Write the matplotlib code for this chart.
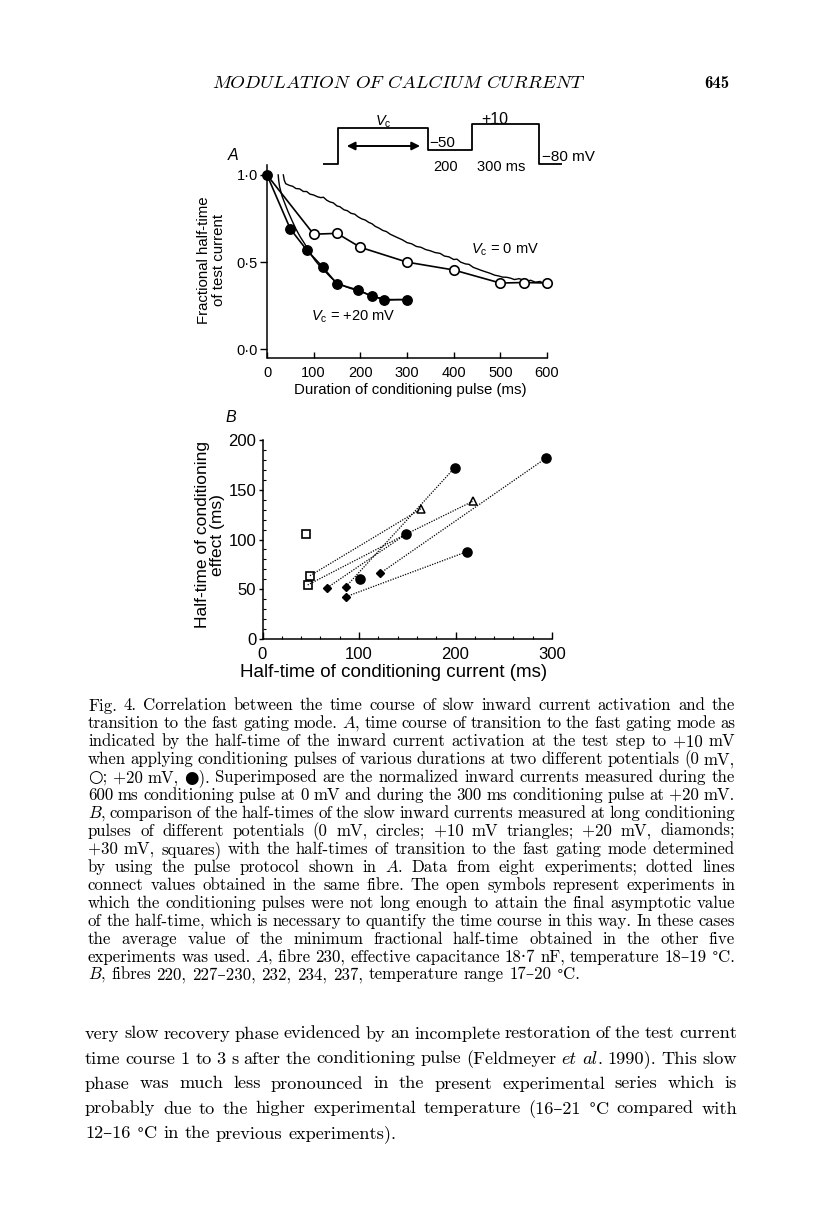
import numpy as np
import matplotlib
matplotlib.use("Agg")
import matplotlib.pyplot as plt
from matplotlib.ticker import MultipleLocator

W, H, DPI = 816, 1208, 100

# ---------------- Panel A data ---------------- #
# fractional half-time of test current vs duration of conditioning pulse
dur_0mv = [0, 100, 150, 200, 300, 400, 500, 550, 600]
half_0mv = [1.0, 0.66, 0.665, 0.585, 0.50, 0.455, 0.38, 0.383, 0.38]
dur_20mv = [0, 50, 85, 120, 150, 195, 225, 250, 300]
half_20mv = [1.0, 0.69, 0.57, 0.47, 0.375, 0.34, 0.305, 0.285, 0.285]

# superimposed normalized inward currents
trace_0mv_t = [35, 37, 40, 48, 55, 62, 70, 78, 85, 92, 100, 108, 115, 121, 128,
               135, 142, 150, 156, 165, 172, 180, 188, 195, 203, 210, 218, 225,
               232, 240, 248, 256, 264, 272, 280, 290, 300, 310, 320, 330, 340,
               350, 360, 371, 380, 390, 400, 407, 415, 425, 433, 442, 450, 460,
               470, 478, 488, 496, 505, 514, 522, 530, 540, 549, 556, 565, 575,
               585, 592, 600]
trace_0mv_i = [1.0, 0.97, 0.95, 0.94, 0.935, 0.922, 0.92, 0.905, 0.905, 0.89,
               0.885, 0.875, 0.87, 0.872, 0.855, 0.845, 0.84, 0.822, 0.818, 0.80,
               0.795, 0.78, 0.775, 0.76, 0.748, 0.742, 0.728, 0.72, 0.705, 0.695,
               0.682, 0.675, 0.66, 0.65, 0.64, 0.628, 0.612, 0.605, 0.59, 0.585,
               0.572, 0.565, 0.555, 0.55, 0.535, 0.53, 0.515, 0.517, 0.5, 0.49,
               0.487, 0.47, 0.462, 0.452, 0.443, 0.436, 0.425, 0.421, 0.414,
               0.413, 0.408, 0.40, 0.405, 0.398, 0.39, 0.396, 0.385, 0.389, 0.38,
               0.382]
trace_20mv_t = [24, 25, 27, 32, 38, 45, 53, 62, 71, 82, 92, 103, 114, 125, 135,
                146, 157, 168, 178, 192, 207, 220, 235, 250, 264, 278, 290]
trace_20mv_i = [1.0, 0.97, 0.933, 0.88, 0.838, 0.79, 0.742, 0.69, 0.646, 0.60,
                0.551, 0.51, 0.474, 0.445, 0.417, 0.39, 0.375, 0.36, 0.35, 0.338,
                0.325, 0.31, 0.298, 0.29, 0.283, 0.285, 0.285]

# ---------------- Panel B data ---------------- #
# half-time of conditioning current (x) vs half-time of conditioning effect (y)
circ_x = [199, 293.5, 148.4, 211.6, 101]       # 0 mV
circ_y = [172, 181.6, 105.2, 87.7, 60]
tri_x = [164.2, 218.5]                          # +10 mV (open)
tri_y = [130.7, 138.7]
sq_x = [44.8, 49.2, 46.8]                       # +30 mV (open)
sq_y = [105.5, 63.6, 54.3]
dia_x = [67.2, 86.5, 86.5, 121.8]               # +20 mV
dia_y = [51.6, 52.6, 42.5, 66]

# values obtained in the same fibre (dotted lines)
fibres = [
    [("sq", 1), ("tri", 0)],
    [("sq", 2), ("circ", 2)],
    [("dia", 0), ("circ", 2), ("tri", 1)],
    [("dia", 1), ("circ", 0)],
    [("dia", 3), ("circ", 1)],
    [("dia", 2), ("circ", 3)],
]

# pulse protocol (schematic): durations in ms and drawn levels
prot_dur = [67, 400, 200, 300, 100]
prot_lvl = [0, 36, 14, 40, 0]

# ---------------- Text ---------------- #
header_words = ["MODULATION", "OF", "CALCIUM", "CURRENT"]
page_number = "645"

caption = [
    "Fig. 4. Correlation between the time course of slow inward current activation and the",
    "transition to the fast gating mode. _A_, time course of transition to the fast gating mode as",
    "indicated by the half-time of the inward current activation at the test step to +10 mV",
    "when applying conditioning pulses of various durations at two different potentials (0 mV,",
    "\u25cb; +20 mV, \u25cf). Superimposed are the normalized inward currents measured during the",
    "600 ms conditioning pulse at 0 mV and during the 300 ms conditioning pulse at +20 mV.",
    "_B_, comparison of the half-times of the slow inward currents measured at long conditioning",
    "pulses of different potentials (0 mV, circles; +10 mV triangles; +20 mV, diamonds;",
    "+30 mV, squares) with the half-times of transition to the fast gating mode determined",
    "by using the pulse protocol shown in _A_. Data from eight experiments; dotted lines",
    "connect values obtained in the same fibre. The open symbols represent experiments in",
    "which the conditioning pulses were not long enough to attain the final asymptotic value",
    "of the half-time, which is necessary to quantify the time course in this way. In these cases",
    "the average value of the minimum fractional half-time obtained in the other five",
    "experiments was used. _A_, fibre 230, effective capacitance 18\u00b77 nF, temperature 18\u201319 \u00b0C.",
    "_B_, fibres 220, 227\u2013230, 232, 234, 237, temperature range 17\u201320 \u00b0C.",
]

body = [
    "very slow recovery phase evidenced by an incomplete restoration of the test current",
    "time course 1 to 3 s after the conditioning pulse (Feldmeyer _et_ _al_. 1990). This slow",
    "phase was much less pronounced in the present experimental series which is",
    "probably due to the higher experimental temperature (16\u201321 \u00b0C compared with",
    "12\u201316 \u00b0C in the previous experiments).",
]

plt.rcParams["font.family"] = ["Liberation Sans", "DejaVu Sans"]
plt.rcParams["mathtext.fontset"] = "custom"
plt.rcParams["mathtext.rm"] = "Liberation Sans"
plt.rcParams["mathtext.it"] = "Liberation Sans:italic"
plt.rcParams["axes.linewidth"] = 1.1

ROMAN = ["cmr10", "DejaVu Serif", "DejaVu Sans"]
ITALIC = ["cmmi10", "DejaVu Serif"]
BOLD = ["cmb10", "DejaVu Serif"]
SYMBOL = ["DejaVu Serif"]   # cmr10 maps the degree sign to a ligature

fig = plt.figure(figsize=(W / DPI, H / DPI), dpi=DPI)
renderer = fig.canvas.get_renderer()


def fx(x):
    return x / W


def fy(y):
    return 1 - y / H


def axes_px(left, top, right, bottom):
    return fig.add_axes([fx(left), fy(bottom), (right - left) / W, (bottom - top) / H])


# ---------- typesetting helpers ---------- #

def split_runs(word, base):
    runs = []
    for i, part in enumerate(word.split("_")):
        fam = ITALIC if i % 2 else base
        for j, piece in enumerate(part.split("\u00b0")):
            if j > 0:
                runs.append(("\u00b0", SYMBOL, 0.8))
            if piece:
                runs.append((piece, fam, 1.0))
    return runs


def put_word(word, x, y, size, base, draw=True):
    for part, fam, scale in split_runs(word, base):
        t = fig.text(fx(x), fy(y), part, fontsize=size * scale, family=fam,
                     va="baseline")
        x += t.get_window_extent(renderer).width
        if not draw:
            t.remove()
    return x


def word_width(word, size, base):
    return put_word(word, 0, 0, size, base, draw=False)


def fit_size(lines, width, base, s0=10.0):
    ratios = []
    for line in lines:
        words = line.split()
        nat = sum(word_width(w, s0, base) for w in words)
        nat += (len(words) - 1) * s0 * DPI / 72 * 0.333
        ratios.append(width / nat)
    return s0 * float(np.median(ratios))


def set_line(line, x0, x1, y, size, base, fill=True):
    words = line.split()
    widths = [word_width(w, size, base) for w in words]
    gap = size * DPI / 72 * 0.333
    if fill and len(words) > 1:
        gap = (x1 - x0 - sum(widths)) / (len(words) - 1)
    x = x0
    for w, wd in zip(words, widths):
        put_word(w, x, y, size, base)
        x += wd + gap


# ---------- running head ---------- #
head = " ".join(header_words)
size = fit_size([head], 370, ITALIC)
set_line(head, 212, 582, 88.5, size, ITALIC)
fig.text(fx(717), fy(88.5), page_number, family=BOLD, fontsize=12,
         ha="center", va="baseline")

# ---------- caption ---------- #
size = fit_size(caption[:-1], 647, ROMAN)
for i, line in enumerate(caption):
    set_line(line, 88, 735, 710.5 + i * 17.93, size, ROMAN,
             fill=i < len(caption) - 1)

# ---------- body text ---------- #
size = fit_size(body[:-1], 652, ROMAN)
for i, line in enumerate(body):
    set_line(line, 85, 737, 1038.5 + i * 25, size, ROMAN,
             fill=i < len(body) - 1)

# ---------- panel A ---------- #
axA = axes_px(267, 165, 547, 357.5)
axA.patch.set_visible(False)
axA.plot(trace_0mv_t, trace_0mv_i, color="k", lw=1.0)
axA.plot(trace_20mv_t, trace_20mv_i, color="k", lw=1.0)
axA.plot(dur_0mv, half_0mv, color="k", lw=1.2, marker="o", ms=6.8, mfc="white",
         mec="k", mew=1.2, markevery=list(range(1, len(dur_0mv))), clip_on=False)
axA.plot(dur_20mv, half_20mv, color="k", lw=1.2, marker="o", ms=6.8, mfc="k",
         mec="k", clip_on=False)
axA.text(510, 0.57, r"$V_{\rm c}$ = 0 mV", ha="center", va="center", fontsize=10.5)
axA.text(186, 0.187, r"$V_{\rm c}$ = +20 mV", ha="center", va="center", fontsize=10.5)

axA.set_xlim(0, 600)
axA.set_ylim(-0.047, 1.057)
for s in ("top", "right"):
    axA.spines[s].set_visible(False)
axA.set_xticks(range(0, 601, 100))
axA.set_yticks([0, 0.5, 1.0])
axA.set_yticklabels(["0\u00b70", "0\u00b75", "1\u00b70"])
axA.tick_params(axis="x", direction="in", length=4, width=1.0, pad=6, labelsize=10.5)
axA.tick_params(axis="y", direction="out", length=5, width=1.0, pad=1.5, labelsize=10.5)
axA.set_xlabel("Duration of conditioning pulse (ms)", fontsize=10.8)
axA.xaxis.set_label_coords((410 - 267) / 280, (357.5 - 383) / 192.5)
axA.set_ylabel("Fractional half-time\nof test current", fontsize=10.8, linespacing=1.05)
axA.yaxis.set_label_coords((226 - 267) / 280, (357.5 - 260) / 192.5)

fig.text(fx(233), fy(155), "A", style="italic", fontsize=11.5, ha="center", va="center")

# ---------- pulse protocol ---------- #
axP = axes_px(323.3, 114.3, 561.7, 174.3)
axP.set_zorder(5)
axP.patch.set_visible(False)
edges = np.concatenate([[0], np.cumsum(prot_dur)])
axP.plot(np.repeat(edges, 2)[1:-1], np.repeat(prot_lvl, 2), color="k", lw=1.3)
axP.annotate("", xy=(105, 18.3), xytext=(433, 18.3),
             arrowprops=dict(arrowstyle="<|-|>", color="k", lw=1.4,
                             mutation_scale=12, shrinkA=0, shrinkB=0))
axP.text(268, 42.6, r"$V_{\rm c}$", ha="center", va="center", fontsize=10.5)
axP.text(768, 45, "+10", ha="center", va="center", fontsize=11.5)
axP.text(474, 21, "\u221250", ha="left", va="center", fontsize=11)
axP.text(545, -2.4, "200", ha="center", va="center", fontsize=10.5)
axP.text(798, -2.4, "300 ms", ha="center", va="center", fontsize=10.5)
axP.text(978, 7.6, "\u221280 mV", ha="left", va="center", fontsize=11)
axP.set_xlim(0, edges[-1])
axP.set_ylim(-10, 50)
axP.axis("off")

# ---------- panel B ---------- #
axB = axes_px(262.5, 440, 552, 639)
pts = {"circ": (circ_x, circ_y), "tri": (tri_x, tri_y),
       "sq": (sq_x, sq_y), "dia": (dia_x, dia_y)}

axB.plot(sq_x, sq_y, ls="none", marker="s", ms=5.4, mfc="white", mec="k", mew=1.2, zorder=2)
axB.plot(tri_x, tri_y, ls="none", marker="^", ms=6, mfc="white", mec="k", mew=1.1, zorder=2)
for fibre in fibres:
    xs = [pts[k][0][i] for k, i in fibre]
    ys = [pts[k][1][i] for k, i in fibre]
    axB.plot(xs, ys, color="k", lw=0.9, ls=(0, (1, 1.1)), zorder=3)
axB.plot(circ_x, circ_y, ls="none", marker="o", ms=6.6, mfc="k", mec="k", zorder=4)
axB.plot(dia_x, dia_y, ls="none", marker="D", ms=4.2, mfc="k", mec="k", zorder=4)

axB.set_xlim(0, 300)
axB.set_ylim(0, 200)
for s in ("top", "right"):
    axB.spines[s].set_visible(False)
axB.xaxis.set_major_locator(MultipleLocator(100))
axB.xaxis.set_minor_locator(MultipleLocator(20))
axB.yaxis.set_major_locator(MultipleLocator(50))
axB.yaxis.set_minor_locator(MultipleLocator(10))
axB.tick_params(axis="x", which="major", direction="in", length=5, width=1.0,
                pad=6, labelsize=12)
axB.tick_params(axis="x", which="minor", direction="in", length=2.5, width=0.8)
axB.tick_params(axis="y", which="major", direction="out", length=3, width=1.0,
                pad=1.5, labelsize=12)
axB.tick_params(axis="y", which="minor", direction="in", length=2, width=0.8)
axB.set_xlabel("Half-time of conditioning current (ms)", fontsize=13.5)
axB.xaxis.set_label_coords((394 - 262.5) / 289.5, (639 - 664) / 199)
axB.set_ylabel("Half-time of conditioning\neffect (ms)", fontsize=12.5, linespacing=1.0)
axB.yaxis.set_label_coords((225 - 262.5) / 289.5, (639 - 535) / 199)

fig.text(fx(231), fy(418), "B", style="italic", fontsize=11.5, ha="center", va="center")

fig.savefig("out.png", dpi=DPI)
